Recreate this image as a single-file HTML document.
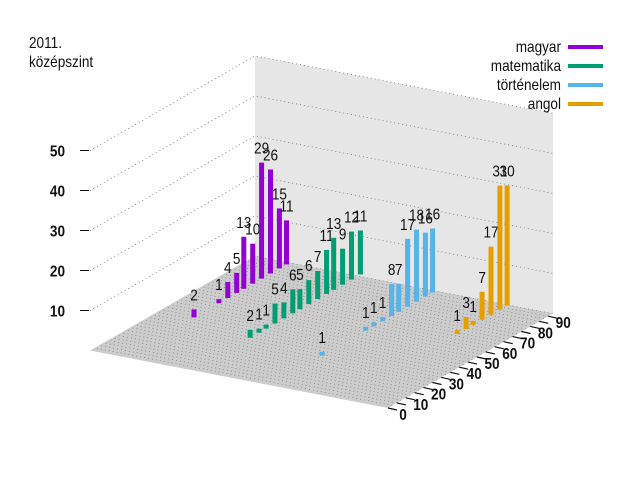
<!DOCTYPE html>
<html><head><meta charset="utf-8">
<style>
html,body{margin:0;padding:0;background:#fff;}
svg{display:block;font-family:"Liberation Sans",sans-serif;}
</style></head>
<body>
<svg id="chart" width="640" height="480" viewBox="0 0 640 480" xmlns="http://www.w3.org/2000/svg">
<text transform="translate(29,48) scale(0.85,1)" font-size="16" fill="#111">2011.</text>
<text transform="translate(29,67) scale(0.85,1)" font-size="16" fill="#111">középszint</text>
<g id="scene"></g>
<g id="legend"></g>
</svg>
<script>
const seriesNames = ["magyar","matematika","történelem","angol"];
const seriesColors = ["#9400d3","#009e73","#56b4e9","#e69f00"];
const seriesDepth = [0.884,0.654,0.394,0.15];
const magyarScores = [39,53,58,63,67,72,77,82,87,91];
const magyarValues = [2,1,4,5,13,10,29,26,15,11];
const matekScores = [32,37,41,46,51,56,60,65,70,75,79,84,89,94];
const matekValues = [2,1,1,5,4,6,5,6,7,11,13,9,12,11];
const toriScores = [29,53.5,58,63,68,72,77,82,87,91];
const toriValues = [1,1,1,1,8,7,17,18,16,16];
const angolScores = [64,69,73,78,83,88,92];
const angolValues = [1,3,1,7,17,31,30];
const scoreTicks = [0,10,20,30,40,50,60,70,80,90];
const zTicks = [10,20,30,40,50];

const allScores=[magyarScores,matekScores,toriScores,angolScores];
const allValues=[magyarValues,matekValues,toriValues,angolValues];
const NS="http://www.w3.org/2000/svg";
const O={x:388,y:408}, U={x:1.78,y:-1.02}, V={x:-298,y:-57.5}, ZS=4.0, SMAX=92.7, ZMAX=50;
const SX=0.85;
function P(s,t,z){return {x:O.x+U.x*s+V.x*t, y:O.y+U.y*s+V.y*t-ZS*z};}
const scene=document.getElementById('scene');
function el(tag,attrs,parent){const e=document.createElementNS(NS,tag);for(const k in attrs)e.setAttribute(k,attrs[k]);(parent||scene).appendChild(e);return e;}
function txt(x,y,attrs,parent){attrs.transform="translate("+x.toFixed(1)+","+y.toFixed(1)+") scale("+SX+",1)";return el('text',attrs,parent);}
function pts(a){return a.map(p=>p.x.toFixed(1)+","+p.y.toFixed(1)).join(" ");}

let w=el('polygon',{points:pts([P(SMAX,1,0),P(SMAX,0,0),P(SMAX,0,ZMAX),P(SMAX,1,ZMAX)]),fill:"#e6e6e6"});


let f=el('polygon',{points:pts([P(0,0,0),P(SMAX,0,0),P(SMAX,1,0),P(0,1,0)]),fill:"#cccccc"});


for(let s=2.5;s<SMAX;s+=2.5){
  const a=P(s,0,0),b=P(s,1,0);
  let g=el('line',{x1:a.x,y1:a.y,x2:b.x,y2:b.y,stroke:"#777","stroke-width":0.7,"stroke-dasharray":"1 3"});
  
  
}
zTicks.forEach(z=>{
  const a=P(0,1,z),b=P(SMAX,1,z),c=P(SMAX,0,z);
  let g=el('polyline',{points:pts([a,b,c]),fill:"none",stroke:"#777","stroke-width":0.8,"stroke-dasharray":"1 3"});
  
  
  let tk=el('line',{x1:a.x-10,y1:a.y,x2:a.x-1,y2:a.y,stroke:"#111","stroke-width":1});
  
  
  let tl=txt(a.x-25,a.y+6,{"text-anchor":"end","font-size":16,"font-weight":"bold",fill:"#111"});
  tl.textContent=z;
  
  
});
for(let s=0;s<=90;s+=5){
  const a=P(s,0,0);
  let tk=el('line',{x1:a.x,y1:a.y,x2:a.x+9,y2:a.y+2,stroke:"#111","stroke-width":1.2});
  
  
}
scoreTicks.forEach(s=>{
  const a=P(s,0,0);
  let tl=txt(a.x+15,a.y+12,{"text-anchor":"middle","font-size":16,"font-weight":"bold",fill:"#111"});
  tl.textContent=s;
  
  
});
seriesNames.forEach((name,i)=>{
  const g=el('g',{});
  
  
  allScores[i].forEach((s,j)=>{
    const v=allValues[i][j];
    const b=P(s,seriesDepth[i],0), tp=P(s,seriesDepth[i],v);
    let r=el('rect',{x:(b.x-2.5).toFixed(1),y:tp.y.toFixed(1),width:5,height:(b.y-tp.y).toFixed(1),fill:seriesColors[i]},g);
    
    
    let t=txt(tp.x,tp.y-9,{"text-anchor":"middle","font-size":16,fill:"#111"},g);
    t.textContent=v;
    
    
  });
});
const lg=document.getElementById('legend');
seriesNames.forEach((name,i)=>{
  const y=47+i*19;
  let t=txt(561,y+5,{"text-anchor":"end","font-size":16,fill:"#111"},lg);
  t.textContent=name;
  
  
  let l=el('line',{x1:568,y1:y,x2:603,y2:y,stroke:seriesColors[i],"stroke-width":4},lg);
  
  
});
</script>
</body></html>
